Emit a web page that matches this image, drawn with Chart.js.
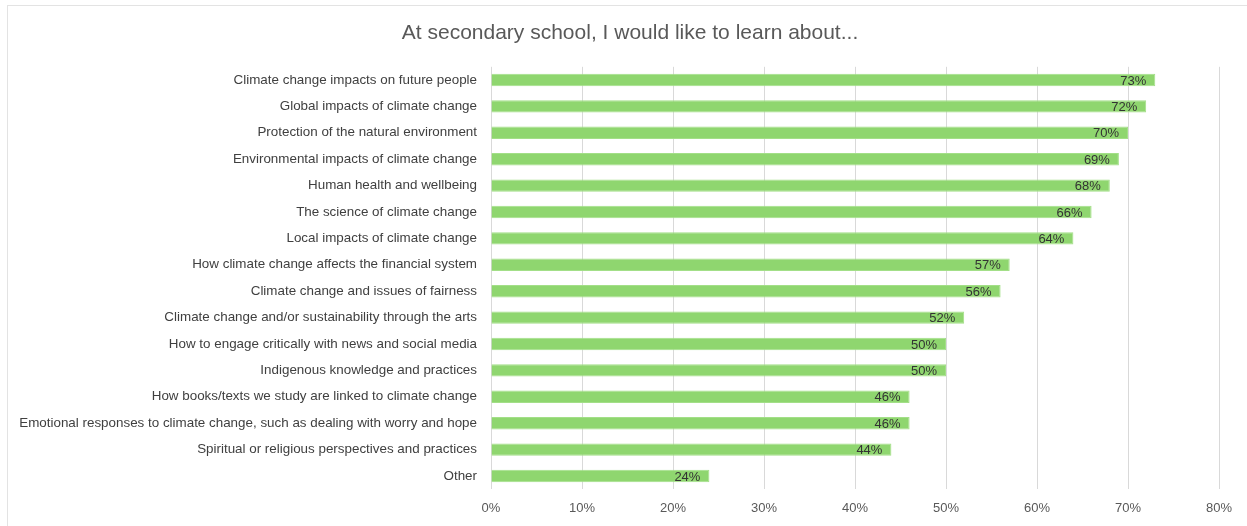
<!DOCTYPE html>
<html>
<head>
<meta charset="utf-8">
<script src="https://cdn.jsdelivr.net/npm/chart.js@4.4.1/dist/chart.umd.min.js"></script>
<style>
  html, body { margin: 0; padding: 0; background: #ffffff; overflow: hidden; }
  #frame { position: absolute; left: 7px; top: 5px; width: 1260px; height: 540px; border: 1px solid #e3e3e3; box-sizing: border-box; }
  #wrap { position: absolute; left: 0; top: 0; width: 1247px; height: 526px; }
</style>
</head>
<body>
<div id="frame"></div>
<div id="wrap"><canvas id="c" width="1247" height="526"></canvas></div>
<script>
const titleText = 'At secondary school, I would like to learn about...';

const topics = [
  'Climate change impacts on future people',
  'Global impacts of climate change',
  'Protection of the natural environment',
  'Environmental impacts of climate change',
  'Human health and wellbeing',
  'The science of climate change',
  'Local impacts of climate change',
  'How climate change affects the financial system',
  'Climate change and issues of fairness',
  'Climate change and/or sustainability through the arts',
  'How to engage critically with news and social media',
  'Indigenous knowledge and practices',
  'How books/texts we study are linked to climate change',
  'Emotional responses to climate change, such as dealing with worry and hope',
  'Spiritual or religious perspectives and practices',
  'Other'
];

const shares = [73, 72, 70, 69, 68, 66, 64, 57, 56, 52, 50, 50, 46, 46, 44, 24];

const axisTicks = [0, 10, 20, 30, 40, 50, 60, 70, 80];

const FONT = "'Liberation Sans', Arial, sans-serif";

// Percentage labels written just inside the end of each bar
const valueLabels = {
  id: 'valueLabels',
  afterDatasetsDraw(chart) {
    const ctx = chart.ctx;
    const meta = chart.getDatasetMeta(0);
    ctx.save();
    ctx.font = '13px ' + FONT;
    ctx.fillStyle = '#333333';
    ctx.textAlign = 'right';
    ctx.textBaseline = 'middle';
    meta.data.forEach((bar, i) => {
      ctx.fillText(shares[i] + '%', bar.x - 9, bar.y + 1);
    });
    ctx.restore();
  }
};

new Chart(document.getElementById('c'), {
  type: 'bar',
  data: {
    labels: topics,
    datasets: [{
      data: shares,
      backgroundColor: '#8fd66f',
      borderColor: '#a3df88',
      borderWidth: 1,
      barPercentage: 0.47,
      categoryPercentage: 1.0
    }]
  },
  options: {
    indexAxis: 'y',
    responsive: false,
    animation: false,
    devicePixelRatio: 1,
    layout: { padding: { left: 13, right: 0, top: 0, bottom: 0 } },
    plugins: {
      legend: { display: false },
      tooltip: { enabled: false },
      title: {
        display: true,
        text: titleText,
        color: '#595959',
        font: { family: FONT, size: 21, weight: 'normal' },
        padding: { top: 21, bottom: 20.6 }
      }
    },
    scales: {
      x: {
        min: 0,
        max: 80,
        afterBuildTicks(scale) {
          scale.ticks = axisTicks.map(v => ({ value: v }));
        },
        afterFit(scale) { scale.height = 36.8; },
        grid: { color: '#d9d9d9', lineWidth: 1, drawTicks: false },
        border: { display: false },
        ticks: {
          padding: 11,
          color: '#595959',
          font: { family: FONT, size: 13 },
          callback: v => v + '%'
        }
      },
      y: {
        afterFit(scale) { scale.width = 478; },
        grid: { display: false, drawTicks: false },
        border: { display: false },
        ticks: {
          padding: 14,
          color: '#404040',
          font: { family: FONT, size: 13.4 },
          autoSkip: false
        }
      },
      // empty right-hand margin beside the plot
      yRight: {
        type: 'category',
        position: 'right',
        afterFit(scale) { scale.width = 28; },
        grid: { display: false, drawTicks: false },
        border: { display: false },
        ticks: { display: false }
      }
    }
  },
  plugins: [valueLabels]
});
</script>
</body>
</html>
